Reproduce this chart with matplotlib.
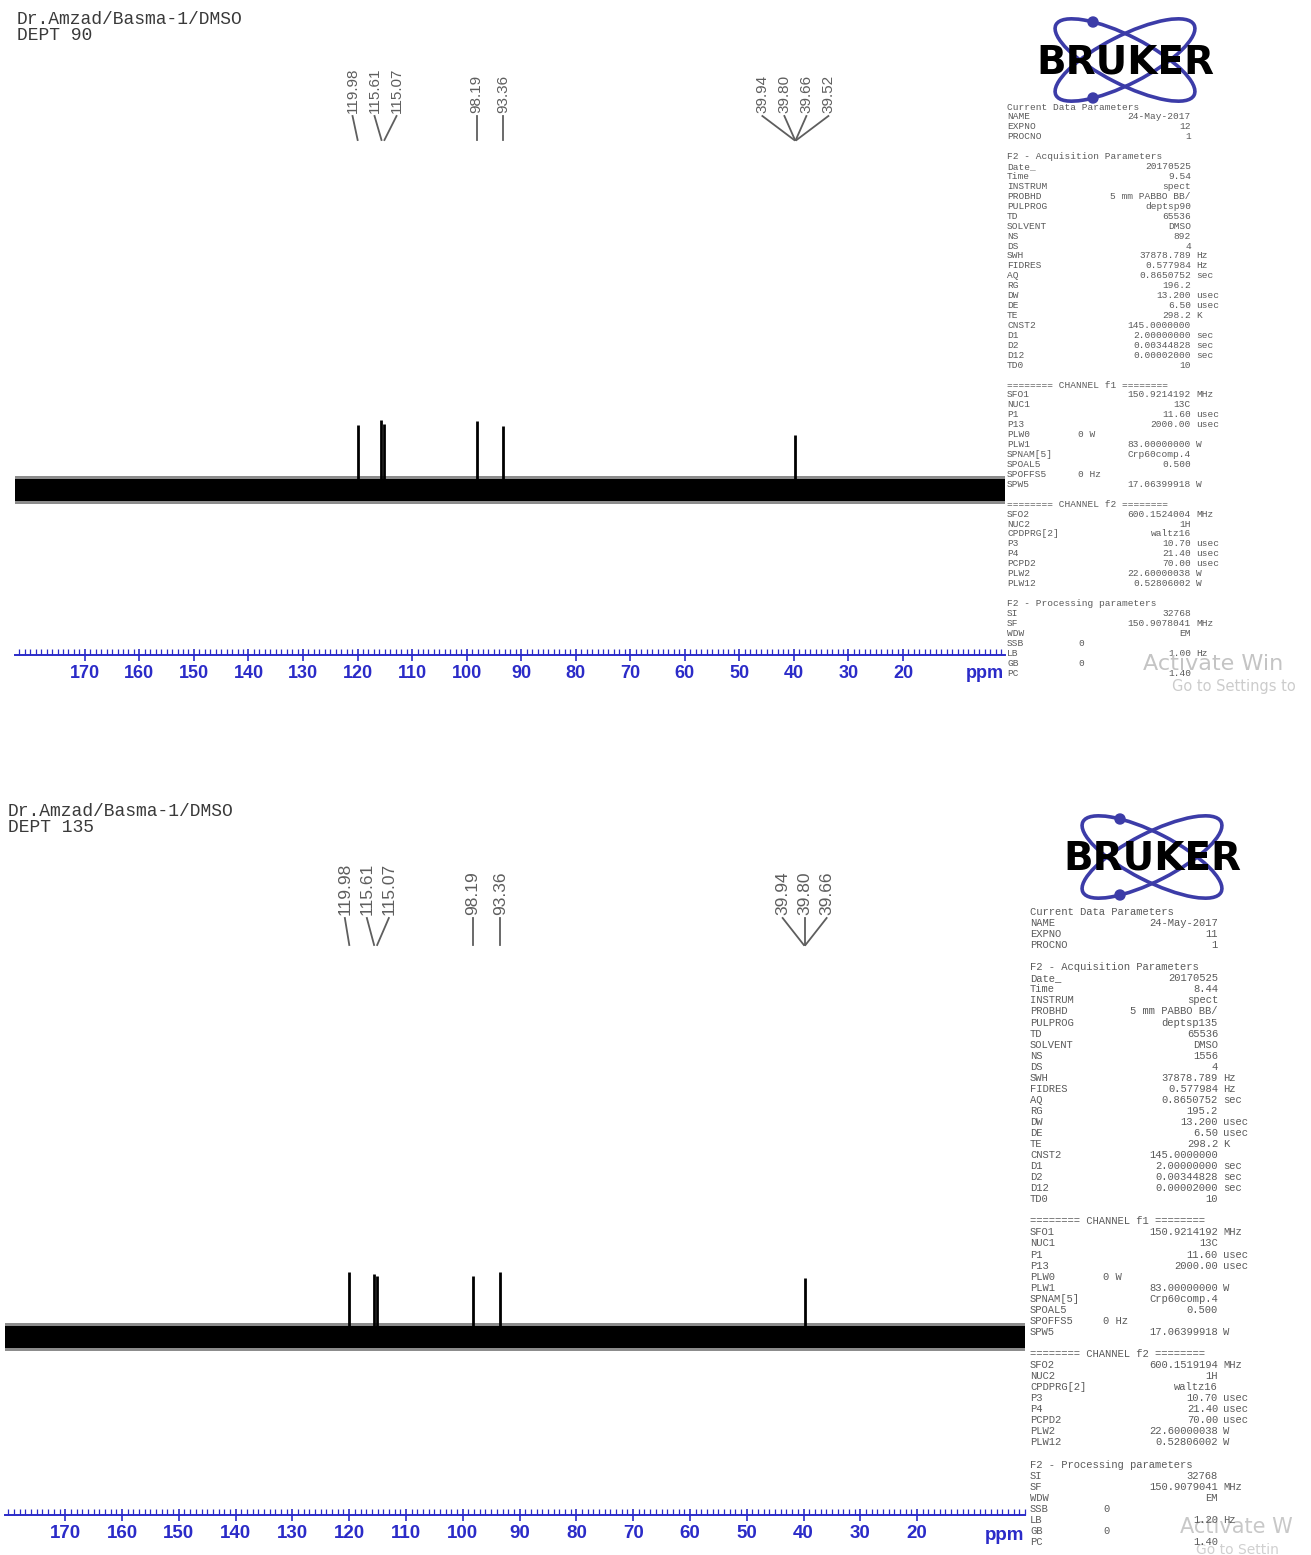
import matplotlib.pyplot as plt
from matplotlib.patches import Ellipse, Circle
from matplotlib.ticker import MultipleLocator

W, H = 1311, 1555

# ---- data ----
dept90_title = ["Dr.Amzad/Basma-1/DMSO", "DEPT 90"]
dept90_window = (182.8, 1.3)          # ppm at left / right end of the axis
dept90_peaks = [119.98, 115.61, 115.07, 98.19, 93.36, 39.80]
dept90_heights = [1.00, 1.08, 1.02, 1.06, 0.98, 0.85]
dept90_groups = [[119.98, 115.61, 115.07], [98.19], [93.36],
                 [39.94, 39.80, 39.66, 39.52]]

dept135_title = ["Dr.Amzad/Basma-1/DMSO", "DEPT 135"]
dept135_window = (180.6, 1.0)
dept135_peaks = [119.98, 115.61, 115.07, 98.19, 93.36, 39.80]
dept135_heights = [1.00, 0.97, 0.94, 0.94, 1.00, 0.91]
dept135_groups = [[119.98, 115.61, 115.07], [98.19], [93.36],
                  [39.94, 39.80, 39.66]]

tick_values = list(range(20, 171, 10))
noise_core = 0.17
noise_halo = 0.22

# ---- acquisition parameter block (name, unit) + values per experiment ----
param_names = [
    "Current Data Parameters", "NAME", "EXPNO", "PROCNO", "",
    "F2 - Acquisition Parameters", "Date_", "Time", "INSTRUM", "PROBHD",
    "PULPROG", "TD", "SOLVENT", "NS", "DS", "SWH", "FIDRES", "AQ", "RG",
    "DW", "DE", "TE", "CNST2", "D1", "D2", "D12", "TD0", "",
    "======== CHANNEL f1 ========", "SFO1", "NUC1", "P1", "P13", "PLW0",
    "PLW1", "SPNAM[5]", "SPOAL5", "SPOFFS5", "SPW5", "",
    "======== CHANNEL f2 ========", "SFO2", "NUC2", "CPDPRG[2]", "P3", "P4",
    "PCPD2", "PLW2", "PLW12", "",
    "F2 - Processing parameters", "SI", "SF", "WDW", "SSB", "LB", "GB", "PC",
]
param_units = [
    "", "", "", "", "",
    "", "", "", "", "",
    "", "", "", "", "", "Hz", "Hz", "sec", "",
    "usec", "usec", "K", "", "sec", "sec", "sec", "", "",
    "", "MHz", "", "usec", "usec", "",
    "W", "", "", "", "W", "",
    "", "MHz", "", "", "usec", "usec",
    "usec", "W", "W", "",
    "", "", "MHz", "", "", "Hz", "", "",
]
param_values_90 = [
    "", "24-May-2017", "12", "1", "",
    "", "20170525", "9.54", "spect", "5 mm PABBO BB/",
    "deptsp90", "65536", "DMSO", "892", "4", "37878.789", "0.577984",
    "0.8650752", "196.2", "13.200", "6.50", "298.2", "145.0000000",
    "2.00000000", "0.00344828", "0.00002000", "10", "",
    "", "150.9214192", "13C", "11.60", "2000.00", "0 W",
    "83.00000000", "Crp60comp.4", "0.500", "0 Hz", "17.06399918", "",
    "", "600.1524004", "1H", "waltz16", "10.70", "21.40",
    "70.00", "22.60000038", "0.52806002", "",
    "", "32768", "150.9078041", "EM", "0", "1.00", "0", "1.40",
]
param_values_135 = [
    "", "24-May-2017", "11", "1", "",
    "", "20170525", "8.44", "spect", "5 mm PABBO BB/",
    "deptsp135", "65536", "DMSO", "1556", "4", "37878.789", "0.577984",
    "0.8650752", "195.2", "13.200", "6.50", "298.2", "145.0000000",
    "2.00000000", "0.00344828", "0.00002000", "10", "",
    "", "150.9214192", "13C", "11.60", "2000.00", "0 W",
    "83.00000000", "Crp60comp.4", "0.500", "0 Hz", "17.06399918", "",
    "", "600.1519194", "1H", "waltz16", "10.70", "21.40",
    "70.00", "22.60000038", "0.52806002", "",
    "", "32768", "150.9079041", "EM", "0", "1.20", "0", "1.40",
]
mid_column = {"PLW0", "SPOFFS5", "SSB", "GB"}

BLUE = "#2b2bc8"
GREY = "#5e5e5e"
MONO = "Liberation Mono"


def draw_spectrum(fig, lay, window, peaks, heights, groups):
    left, right = lay["left"], lay["right"]
    axis_px, top_px, base, unit = lay["axis"], lay["top"], lay["base"], lay["unit"]
    ax = fig.add_axes([left / W, 1 - axis_px / H, (right - left) / W,
                       (axis_px - top_px) / H])
    ax.patch.set_visible(False)
    ax.set_xlim(*window)
    ax.set_ylim(-(axis_px - base) / unit, (base - top_px) / unit)

    def yd(px):
        return (base - px) / unit

    # baseline noise band
    ax.fill_between(window, -noise_halo, noise_halo, color="black",
                    alpha=0.45, lw=0)
    ax.fill_between(window, -noise_core, noise_core, color="black", lw=0)
    ax.vlines(peaks, 0, heights, color="black", lw=2.0)

    # peak labels with leader lines
    px_per_ppm = (right - left) / (window[0] - window[1])
    sp = lay["spacing"] / px_per_ppm
    for grp in groups:
        c = sum(grp) / len(grp)
        n = len(grp)
        for i, p in enumerate(grp):
            lx = c + ((n - 1) / 2 - i) * sp
            ax.text(lx, yd(lay["lab_bottom"]), f"{p:.2f}", rotation=90,
                    ha="center", va="bottom", fontsize=lay["lab_size"],
                    color=GREY, family="Liberation Sans")
            ax.plot([lx, p], [yd(lay["lead_top"]), yd(lay["lead_bottom"])],
                    color=GREY, lw=1.3)

    for s in ("top", "left", "right"):
        ax.spines[s].set_visible(False)
    ax.spines["bottom"].set_color(BLUE)
    ax.spines["bottom"].set_linewidth(1.4)
    ax.set_yticks([])
    ax.set_xticks(tick_values)
    ax.set_xticklabels([str(t) for t in tick_values], fontweight="bold",
                       fontsize=lay["tick_size"], color=BLUE,
                       family="Liberation Sans")
    ax.xaxis.set_minor_locator(MultipleLocator(1))
    ax.tick_params(axis="x", which="major", direction="inout", length=8,
                   width=1.2, color=BLUE, pad=3)
    ax.tick_params(axis="x", which="minor", direction="in", length=4,
                   width=0.9, color=BLUE)
    ax.text((lay["ppm_x"] - left) / (right - left),
            -(lay["ppm_y"] - axis_px) / (axis_px - top_px), "ppm",
            transform=ax.transAxes, ha="center", va="center",
            fontsize=lay["tick_size"], fontweight="bold", color=BLUE,
            family="Liberation Sans")
    return ax


def draw_logo(ov, cx, cy):
    for ang in (27, -27):
        ov.add_patch(Ellipse((cx, cy), 155, 48, angle=ang, fill=False,
                             ec="#3c3ca8", lw=2.6))
    for dy in (-38, 38):
        ov.add_patch(Circle((cx - 32, cy + dy), 5, color="#3c3ca8"))
    ov.text(cx, cy + 2, "BRUKER", ha="center", va="center", fontsize=28,
            fontweight="heavy", color="black", family="DejaVu Sans")


def draw_params(ov, values, lay):
    for i, (name, val, unit) in enumerate(zip(param_names, values, param_units)):
        y = lay["y0"] + i * lay["step"]
        kw = dict(fontsize=lay["size"], color="#5a5a5a", family=MONO,
                  va="center")
        if name:
            ov.text(lay["x"], y, name, ha="left", **kw)
        if not val:
            continue
        if name in mid_column:
            ov.text(lay["mid"], y, val, ha="left", **kw)
        else:
            ov.text(lay["val"], y, val, ha="right", **kw)
        if unit:
            ov.text(lay["unit"], y, unit, ha="left", **kw)


def main():
    fig = plt.figure(figsize=(W / 100, H / 100), dpi=100)
    ov = fig.add_axes([0, 0, 1, 1])
    ov.set_xlim(0, W)
    ov.set_ylim(H, 0)
    ov.axis("off")

    top = dict(left=15, right=1005, axis=655, top=55, base=490, unit=65,
               spacing=22, lab_bottom=113, lead_top=116, lead_bottom=140,
               lab_size=11, tick_size=13, ppm_x=985, ppm_y=673)
    bot = dict(left=5, right=1025, axis=1515, top=845, base=1337, unit=65,
               spacing=22, lab_bottom=915, lead_top=918, lead_bottom=945,
               lab_size=12.5, tick_size=13.5, ppm_x=1005, ppm_y=1535)

    draw_spectrum(fig, top, dept90_window, dept90_peaks, dept90_heights,
                  dept90_groups)
    draw_spectrum(fig, bot, dept135_window, dept135_peaks, dept135_heights,
                  dept135_groups)

    for (x, y0), title in (((17, 19), dept90_title), ((8, 812), dept135_title)):
        for k, line in enumerate(title):
            ov.text(x, y0 + k * 16, line, fontsize=13, family=MONO,
                    color="#3a3a3a", va="center", ha="left")

    draw_logo(ov, 1125, 60)
    draw_logo(ov, 1152, 857)

    draw_params(ov, param_values_90,
                dict(x=1007, val=1191, unit=1196, mid=1078, y0=107,
                     step=9.93, size=6.8))
    draw_params(ov, param_values_135,
                dict(x=1030, val=1218, unit=1223, mid=1103, y0=912,
                     step=11.05, size=7.6))

    # screen watermark visible in the screenshot (cut at the right edge)
    ov.text(1143, 664, "Activate Win", fontsize=16, color="#c4c4c4",
            va="center", family="DejaVu Sans")
    ov.text(1172, 686, "Go to Settings to", fontsize=10.5,
            color="#cccccc", va="center", family="DejaVu Sans")
    ov.text(1180, 1527, "Activate W", fontsize=15, color="#c8c8c8",
            va="center", family="DejaVu Sans", zorder=0)
    ov.text(1196, 1550, "Go to Settin", fontsize=10,
            color="#d0d0d0", va="center", family="DejaVu Sans", zorder=0)

    fig.savefig("out.png", dpi=100)


if __name__ == "__main__":
    main()
